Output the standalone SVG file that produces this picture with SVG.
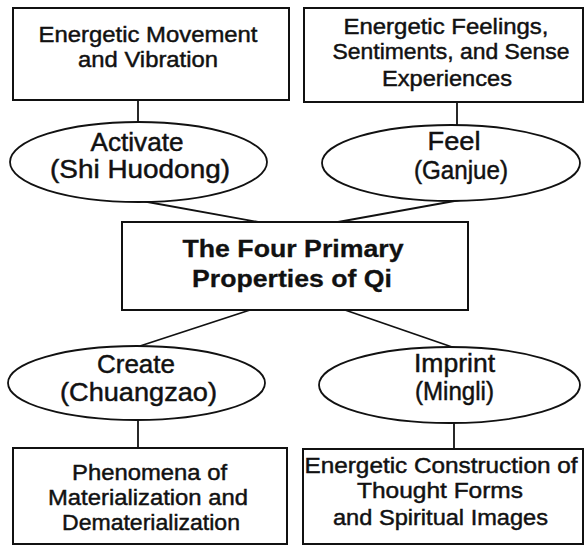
<svg xmlns="http://www.w3.org/2000/svg" width="587" height="547" viewBox="0 0 587 547">
  <style>
    .box { fill: #ffffff; stroke: #111111; stroke-width: 2; }
    .oval { fill: #ffffff; stroke: #111111; stroke-width: 1.8; }
    .link { stroke: #111111; stroke-width: 1.8; fill: none; }
    text { font-family: "Liberation Sans", Arial, sans-serif; fill: #111111; stroke: #111111; stroke-width: 0.45; text-anchor: middle; }
    .t { font-size: 22px; }
    .e { font-size: 25px; }
    .b { font-size: 24px; font-weight: bold; stroke-width: 0.3; }
  </style>
  <rect width="587" height="547" fill="#ffffff"/>

  <g id="connectors">
    <line class="link" x1="138" y1="100" x2="138" y2="122"/>
    <line class="link" x1="457" y1="102" x2="457" y2="125"/>
    <line class="link" x1="142" y1="201" x2="258" y2="222"/>
    <line class="link" x1="460" y1="200" x2="338" y2="222"/>
    <line class="link" x1="250" y1="310" x2="140" y2="346"/>
    <line class="link" x1="345" y1="310" x2="455" y2="348"/>
    <line class="link" x1="138" y1="420" x2="138" y2="448"/>
    <line class="link" x1="454" y1="423" x2="454" y2="449"/>
  </g>

  <g id="movement">
    <rect class="box" x="13" y="8" width="276" height="92"/>
    <text class="t" x="148" y="42" textLength="219" lengthAdjust="spacingAndGlyphs">Energetic Movement</text>
    <text class="t" x="148" y="67" textLength="140" lengthAdjust="spacingAndGlyphs">and Vibration</text>
  </g>

  <g id="feelings">
    <rect class="box" x="304" y="8" width="279" height="94"/>
    <text class="t" x="446" y="34" textLength="205" lengthAdjust="spacingAndGlyphs">Energetic Feelings,</text>
    <text class="t" x="451" y="59" textLength="237" lengthAdjust="spacingAndGlyphs">Sentiments, and Sense</text>
    <text class="t" x="447" y="86" textLength="130" lengthAdjust="spacingAndGlyphs">Experiences</text>
  </g>

  <g id="activate">
    <ellipse class="oval" cx="138.5" cy="162" rx="128.5" ry="40"/>
    <text class="e" x="137" y="151" textLength="93" lengthAdjust="spacingAndGlyphs">Activate</text>
    <text class="e" x="140" y="178" textLength="180" lengthAdjust="spacingAndGlyphs">(Shi Huodong)</text>
  </g>

  <g id="feel">
    <ellipse class="oval" cx="451" cy="163" rx="129" ry="38"/>
    <text class="e" x="454" y="150" textLength="53" lengthAdjust="spacingAndGlyphs">Feel</text>
    <text class="e" x="461" y="179" textLength="94" lengthAdjust="spacingAndGlyphs">(Ganjue)</text>
  </g>

  <g id="qi">
    <rect class="box" x="122" y="222" width="346" height="88"/>
    <text class="b" x="293" y="257" textLength="221" lengthAdjust="spacingAndGlyphs">The Four Primary</text>
    <text class="b" x="292" y="287" textLength="200" lengthAdjust="spacingAndGlyphs">Properties of Qi</text>
  </g>

  <g id="create">
    <ellipse class="oval" cx="136.5" cy="383" rx="128.5" ry="37"/>
    <text class="e" x="136" y="373" textLength="78" lengthAdjust="spacingAndGlyphs">Create</text>
    <text class="e" x="138.5" y="401" textLength="157" lengthAdjust="spacingAndGlyphs">(Chuangzao)</text>
  </g>

  <g id="imprint">
    <ellipse class="oval" cx="449.5" cy="385" rx="130.5" ry="38"/>
    <text class="e" x="454.5" y="372" textLength="81" lengthAdjust="spacingAndGlyphs">Imprint</text>
    <text class="e" x="454.5" y="400" textLength="79" lengthAdjust="spacingAndGlyphs">(Mingli)</text>
  </g>

  <g id="materialization">
    <rect class="box" x="13" y="448" width="274" height="96"/>
    <text class="t" x="149.5" y="480" textLength="155" lengthAdjust="spacingAndGlyphs">Phenomena of</text>
    <text class="t" x="148" y="505" textLength="200" lengthAdjust="spacingAndGlyphs">Materialization and</text>
    <text class="t" x="151" y="530" textLength="178" lengthAdjust="spacingAndGlyphs">Dematerialization</text>
  </g>

  <g id="thought-forms">
    <rect class="box" x="303" y="449" width="280" height="95"/>
    <text class="t" x="441" y="473" textLength="273" lengthAdjust="spacingAndGlyphs">Energetic Construction of</text>
    <text class="t" x="440" y="498" textLength="166" lengthAdjust="spacingAndGlyphs">Thought Forms</text>
    <text class="t" x="440.5" y="525" textLength="215" lengthAdjust="spacingAndGlyphs">and Spiritual Images</text>
  </g>
</svg>
